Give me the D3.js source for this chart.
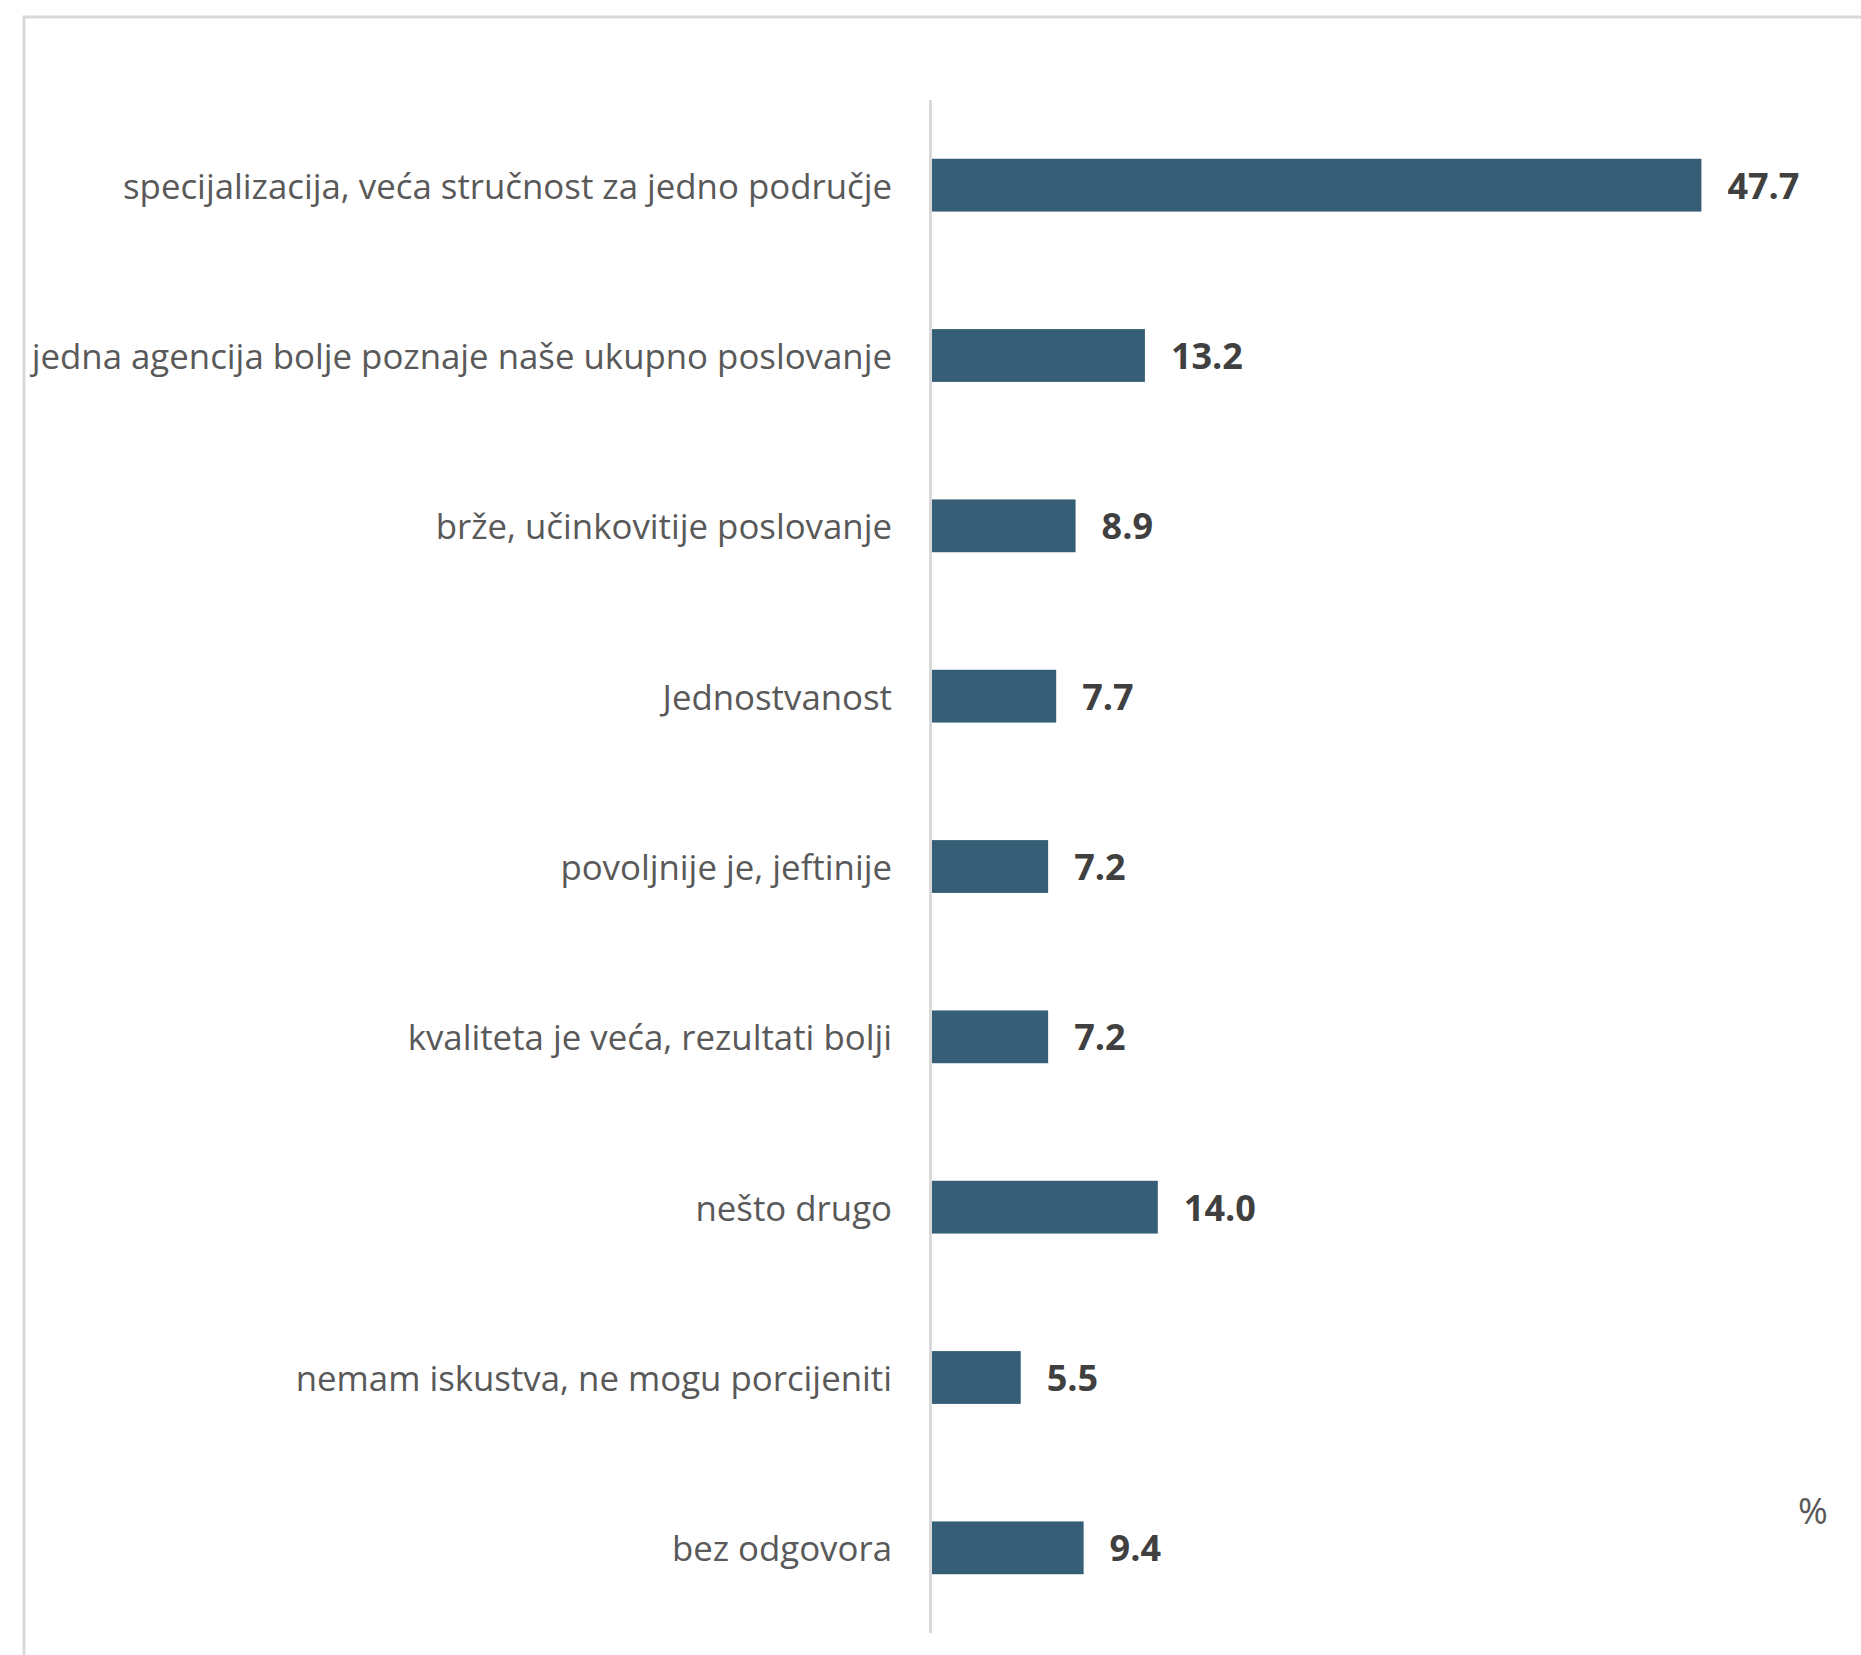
<!DOCTYPE html>
<html>
<head>
<meta charset="utf-8">
<script src="https://cdn.jsdelivr.net/npm/d3@7"></script>
<style>
  html, body { margin: 0; padding: 0; background: #ffffff; }
  svg { display: block; }
</style>
</head>
<body>
<script>
// Survey answers and their shares (%)
const categories = [
  "specijalizacija, veća stručnost za jedno područje",
  "jedna agencija bolje poznaje naše ukupno poslovanje",
  "brže, učinkovitije poslovanje",
  "Jednostvanost",
  "povoljnije je, jeftinije",
  "kvaliteta je veća, rezultati bolji",
  "nešto drugo",
  "nemam iskustva, ne mogu porcijeniti",
  "bez odgovora"
];
const values = [47.7, 13.2, 8.9, 7.7, 7.2, 7.2, 14.0, 5.5, 9.4];
const unitLabel = "%";

const W = 1861, H = 1655;
const svg = d3.select("body").append("svg")
  .attr("width", W).attr("height", H);

// chart frame
svg.append("rect")
  .attr("x", 24).attr("y", 17)
  .attr("width", W + 50).attr("height", H + 50)
  .attr("fill", "#ffffff")
  .attr("stroke", "#d9d9d9").attr("stroke-width", 3);

const x = d3.scaleLinear().domain([0, 50]).range([932, 932 + 50 * 16.13]);
const y = d3.scaleBand().domain(categories).range([100, 1633])
  .paddingInner(0.69).paddingOuter(0.345);

// bars
svg.append("g").selectAll("rect")
  .data(values)
  .join("rect")
  .attr("x", x(0))
  .attr("y", (d, i) => y(categories[i]))
  .attr("width", d => x(d) - x(0))
  .attr("height", y.bandwidth())
  .attr("fill", "#365e77");

// vertical category axis line
svg.append("line")
  .attr("x1", x(0) - 1.5).attr("x2", x(0) - 1.5)
  .attr("y1", y.range()[0]).attr("y2", y.range()[1])
  .attr("stroke", "#d9d9d9").attr("stroke-width", 3);

// category labels
svg.append("g").selectAll("text")
  .data(categories)
  .join("text")
  .attr("x", 892)
  .attr("y", d => y(d) + y.bandwidth() / 2)
  .attr("text-anchor", "end")
  .attr("dominant-baseline", "central")
  .attr("font-family", "'Open Sans', sans-serif")
  .attr("font-size", 34.8)
  .attr("fill", "#595959")
  .text(d => d);

// value labels
svg.append("g").selectAll("text")
  .data(values)
  .join("text")
  .attr("x", d => x(d) + 26)
  .attr("y", (d, i) => y(categories[i]) + y.bandwidth() / 2)
  .attr("dominant-baseline", "central")
  .attr("font-family", "'Open Sans', sans-serif")
  .attr("font-weight", "bold")
  .attr("font-size", 36)
  .attr("fill", "#404040")
  .text(d => d.toFixed(1));

// unit note
svg.append("text")
  .attr("x", 1813).attr("y", 1510)
  .attr("text-anchor", "middle")
  .attr("dominant-baseline", "central")
  .attr("font-family", "'Open Sans', sans-serif")
  .attr("font-size", 36)
  .attr("fill", "#595959")
  .text(unitLabel);
</script>
</body>
</html>
